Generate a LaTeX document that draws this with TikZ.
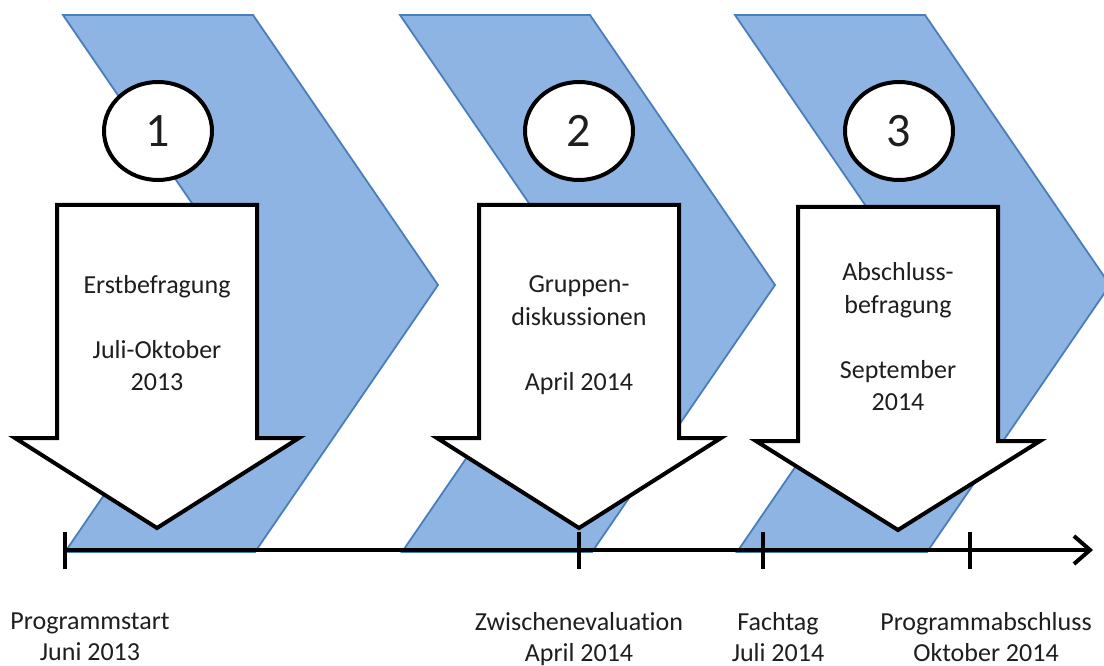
\documentclass[tikz,border=0pt]{standalone}
\usepackage{fontspec}
\setmainfont{Carlito}[Ligatures=NoCommon]
\usetikzlibrary{arrows.meta,shapes.geometric}
\definecolor{chevfill}{HTML}{8EB4E3}
\definecolor{chevedge}{HTML}{4A7EBB}
\definecolor{inktext}{HTML}{1E1E1E}

\begin{document}
\begin{tikzpicture}[
  x=1pt, y=-1pt,
  chevron/.style={fill=chevfill, draw=chevedge, line width=1.8pt},
  bigarrow/.style={fill=white, draw=black, line width=4pt, line join=miter},
  numcircle/.style={ellipse, draw, line width=4pt, fill=white, minimum width=108pt, minimum height=98pt, inner sep=0pt, text=inktext, font=\fontsize{48}{54}\selectfont},
  arrowtext/.style={align=center, text=inktext, font=\fontsize{26}{32.5}\selectfont},
  datelabel/.style={align=center, anchor=base, text=inktext, font=\fontsize{26}{31}\selectfont},
  timeline/.style={line width=4pt, -{Straight Barb[length=16pt, width=28pt, line width=4pt]}},
  tick/.style={line width=4pt}
]
\useasboundingbox (0,0) rectangle (1104,666);

% phases
\foreach \dx in {0,337,672}
  \draw[chevron] (63+\dx,15) -- (253+\dx,15) -- (438+\dx,285) -- (255+\dx,552) -- (65+\dx,552) -- (248+\dx,285) -- cycle;

% timeline
\coordinate (start) at (65,550);
\coordinate (end) at (1093,550);
\draw[timeline] (start) -- (end);
\foreach \name/\tx in {ps/65, ze/579, ft/763, pa/970} {
  \coordinate (\name) at (\tx,550);
  \draw[tick] (\name) ++(0,-18) -- ++(0,37);
}

% survey arrows
\foreach \cx/\ya/\yb/\yc in {157/205/438/528, 579/205/438/528, 898/207/441/530}
  \draw[bigarrow] (\cx-100,\ya) -- (\cx+100,\ya) -- (\cx+100,\yb) -- (\cx+142,\yb)
    -- (\cx,\yc) -- (\cx-142,\yb) -- (\cx-100,\yb) -- cycle;

\node[numcircle] (n1) at (158,131) {1};
\node[numcircle] (n2) at (579,131) {2};
\node[numcircle] (n3) at (899,131) {3};

\node[arrowtext] (e1) at (157,333) {Erstbefragung\\[32.5pt]Juli-Oktober\\2013};
\node[arrowtext] (e2) at (579,335) {Gruppen-\\diskussionen\\[32.5pt]April 2014};
\node[arrowtext] (e3) at (898,337) {Abschluss-\\befragung\\[32.5pt]September\\2014};

% milestones
\node[datelabel] (l1) at (90,660) {Programmstart\\Juni 2013};
\node[datelabel] (l2) at (579,661) {Zwischenevaluation\\April 2014};
\node[datelabel] (l3) at (778,661) {Fachtag\\Juli 2014};
\node[datelabel] (l4) at (986,661) {Programmabschluss\\Oktober 2014};
\end{tikzpicture}
\end{document}
